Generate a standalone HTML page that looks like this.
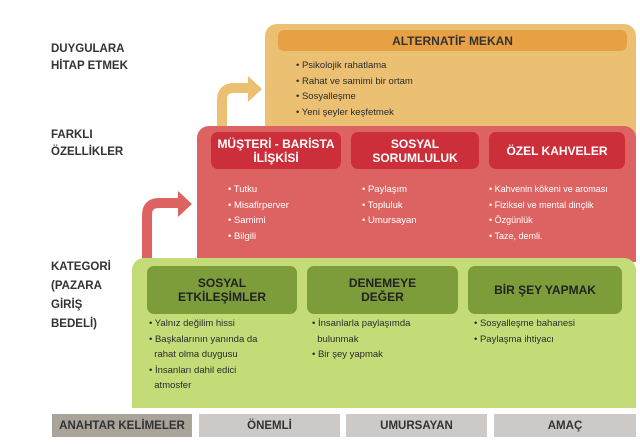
<!DOCTYPE html>
<html><head><meta charset="utf-8"><style>
*{margin:0;padding:0;box-sizing:border-box}
body{width:640px;height:445px;background:#fff;position:relative;overflow:hidden;font-family:"Liberation Sans",sans-serif;color:#2a2a2a}
.a{position:absolute}
.lbl{font-weight:bold;font-size:11.5px;line-height:17px;color:#333}
.hd{position:absolute;display:flex;align-items:center;justify-content:center;text-align:center;font-weight:bold;font-size:12px;line-height:14px;color:#fff;border-radius:7px}
ul{list-style:none;position:absolute;font-size:9.5px;line-height:15.5px;color:#2b2b2b}
li:before{content:"• "}
.bb{position:absolute;top:414px;height:23px;background:#cdc9c6;font-weight:bold;font-size:11.5px;display:flex;align-items:center;justify-content:center;color:#333}
</style></head><body>
<div class="a lbl" style="left:51px;top:41px">DUYGULARA<br>HİTAP ETMEK</div>
<div class="a lbl" style="left:51px;top:127px">FARKLI<br>ÖZELLİKLER</div>
<div class="a lbl" style="left:51px;top:258px;line-height:19px">KATEGORİ<br>(PAZARA<br>GİRİŞ<br>BEDELİ)</div>

<svg class="a" style="left:0;top:0" width="640" height="445">
<path d="M222 130 V100 Q222 88 234 88 H250" fill="none" stroke="#ebc073" stroke-width="10"/>
<polygon points="248,76 262,89 248,102" fill="#ebc073"/>
<path d="M147 262 V215 Q147 203 159 203 H180" fill="none" stroke="#dd6362" stroke-width="10"/>
<polygon points="178,191 192,204 178,217" fill="#dd6362"/>
</svg>

<div class="a" style="left:265px;top:24px;width:371px;height:140px;background:#ebc073;border-radius:12px 12px 0 0"></div>
<div class="hd" style="left:278px;top:30px;width:349px;height:21px;background:#e8a045;color:#333;border-radius:6px">ALTERNATİF MEKAN</div>
<ul style="left:296px;top:58px"><li>Psikolojik rahatlama</li><li>Rahat ve samimi bir ortam</li><li>Sosyalleşme</li><li>Yeni şeyler keşfetmek</li></ul>

<div class="a" style="left:197px;top:126px;width:439px;height:136px;background:#dd6362;border-radius:12px 12px 0 0"></div>
<div class="hd" style="left:211px;top:132px;width:130px;height:37px;background:#cc2f3a">MÜŞTERİ - BARİSTA<br>İLİŞKİSİ</div>
<div class="hd" style="left:351px;top:132px;width:128px;height:37px;background:#cc2f3a">SOSYAL<br>SORUMLULUK</div>
<div class="hd" style="left:489px;top:132px;width:136px;height:37px;background:#cc2f3a">ÖZEL KAHVELER</div>
<ul style="left:228px;top:182px;color:#fff"><li>Tutku</li><li>Misafirperver</li><li>Samimi</li><li>Bilgili</li></ul>
<ul style="left:362px;top:182px;color:#fff"><li>Paylaşım</li><li>Topluluk</li><li>Umursayan</li></ul>
<ul style="left:489px;top:182px;color:#fff;font-size:9px"><li>Kahvenin kökeni ve aroması</li><li>Fiziksel ve mental dinçlik</li><li>Özgünlük</li><li>Taze, demli.</li></ul>

<div class="a" style="left:132px;top:258px;width:504px;height:150px;background:#c4dc78;border-radius:12px 12px 0 0"></div>
<div class="hd" style="left:147px;top:266px;width:150px;height:48px;background:#7d9c3a;color:#222">SOSYAL<br>ETKİLEŞİMLER</div>
<div class="hd" style="left:307px;top:266px;width:151px;height:48px;background:#7d9c3a;color:#222">DENEMEYE<br>DEĞER</div>
<div class="hd" style="left:468px;top:266px;width:154px;height:48px;background:#7d9c3a;color:#222">BİR ŞEY YAPMAK</div>
<ul style="left:149px;top:316px;width:140px"><li>Yalnız değilim hissi</li><li>Başkalarının yanında da<br>&nbsp;&nbsp;rahat olma duygusu</li><li>İnsanları dahil edici<br>&nbsp;&nbsp;atmosfer</li></ul>
<ul style="left:312px;top:316px"><li>İnsanlarla paylaşımda<br>&nbsp;&nbsp;bulunmak</li><li>Bir şey yapmak</li></ul>
<ul style="left:474px;top:316px"><li>Sosyalleşme bahanesi</li><li>Paylaşma ihtiyacı</li></ul>

<div class="bb" style="left:52px;width:140px;background:#a8a49a">ANAHTAR KELİMELER</div>
<div class="bb" style="left:199px;width:141px">ÖNEMLİ</div>
<div class="bb" style="left:346px;width:141px">UMURSAYAN</div>
<div class="bb" style="left:494px;width:142px">AMAÇ</div>
</body></html>
